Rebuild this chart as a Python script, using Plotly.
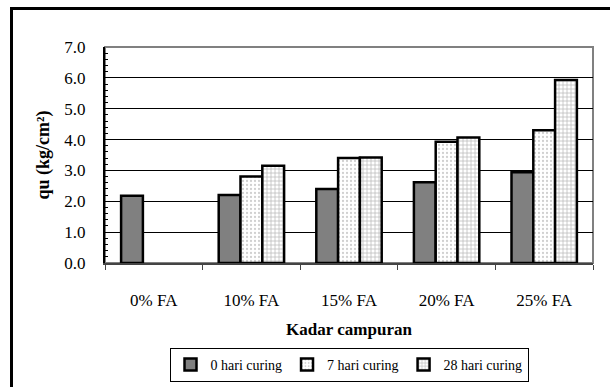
import plotly.graph_objects as go

# Unconfined compressive strength (qu) by fly-ash content and curing time
categories = ["0% FA", "10% FA", "15% FA", "20% FA", "25% FA"]
series_names = ["0 hari curing", "7 hari curing", "28 hari curing"]
qu_0_hari = [2.18, 2.20, 2.40, 2.62, 2.94]
qu_7_hari = [None, 2.80, 3.40, 3.93, 4.30]
qu_28_hari = [None, 3.15, 3.42, 4.07, 5.93]
y_ticks = [0, 1, 2, 3, 4, 5, 6, 7]

FONT = "Liberation Serif"

W, H = 610, 387
ML, MR, MT, MB = 105, 17, 47, 124
PW, PH = W - ML - MR, H - MT - MB


def px_to_paper_x(px):
    return (px - ML) / PW


def px_to_paper_y(py):
    return (H - MB - py) / PH


fig = go.Figure()

fig.add_trace(go.Bar(
    name=series_names[0], x=categories, y=qu_0_hari,
    marker=dict(color="#808080", line=dict(color="black", width=2.5)),
))
fig.add_trace(go.Bar(
    name=series_names[1], x=categories, y=qu_7_hari,
    marker=dict(color="white", line=dict(color="black", width=2.5),
                pattern=dict(shape=".", fgcolor="#a0a0a0", bgcolor="white",
                             size=4, solidity=0.25)),
))
fig.add_trace(go.Bar(
    name=series_names[2], x=categories, y=qu_28_hari,
    marker=dict(color="white", line=dict(color="black", width=2.5),
                pattern=dict(shape="+", fgcolor="#7a7a7a", bgcolor="white",
                             size=4, solidity=0.35)),
))

fig.update_layout(
    width=W, height=H,
    margin=dict(l=ML, r=MR, t=MT, b=MB, pad=0, autoexpand=False),
    paper_bgcolor="white", plot_bgcolor="white",
    font=dict(family=FONT, size=17, color="black"),
    barmode="group", bargap=0.33, bargroupgap=0,
    showlegend=True,
    legend=dict(
        orientation="h", x=0.5, xanchor="center",
        y=px_to_paper_y(348), yanchor="top",
        bordercolor="black", borderwidth=1,
        font=dict(family=FONT, size=14), itemwidth=30,
        tracegroupgap=0,
    ),
    shapes=[
        # plot-area frame (grey top/right edges)
        dict(type="rect", xref="paper", yref="paper", x0=0, x1=1, y0=0, y1=1,
             line=dict(color="#808080", width=2), layer="below"),
        # outer chart frame: left and top edges
        dict(type="line", xref="paper", yref="paper",
             x0=px_to_paper_x(11.5), x1=px_to_paper_x(11.5),
             y0=px_to_paper_y(400), y1=px_to_paper_y(7),
             line=dict(color="black", width=3)),
        dict(type="line", xref="paper", yref="paper",
             x0=px_to_paper_x(10), x1=px_to_paper_x(620),
             y0=px_to_paper_y(8.5), y1=px_to_paper_y(8.5),
             line=dict(color="black", width=3)),
    ],
)

fig.update_xaxes(
    type="category", tickson="boundaries", ticks="outside", ticklen=5,
    tickcolor="#444", showline=True, linecolor="#444", linewidth=2,
    showgrid=False, ticklabelstandoff=21, automargin=False,
    tickfont=dict(family=FONT, size=17),
    title=dict(text="<b>Kadar campuran</b>", font=dict(family=FONT, size=17),
               standoff=14),
)

fig.update_yaxes(
    range=[0, 7], tickvals=y_ticks, tickformat=".1f",
    ticks="inside", ticklen=5, tickcolor="black",
    minor=dict(dtick=0.2, ticks="inside", ticklen=3, tickcolor="black",
               showgrid=False),
    showline=True, linecolor="black", linewidth=2,
    showgrid=True, gridcolor="black", gridwidth=1,
    zeroline=False, ticklabelstandoff=14, automargin=False,
    tickfont=dict(family=FONT, size=17),
    title=dict(text="<b>qu (kg/cm²)</b>", font=dict(family=FONT, size=18),
               standoff=10),
)

fig.write_html("out.html")
